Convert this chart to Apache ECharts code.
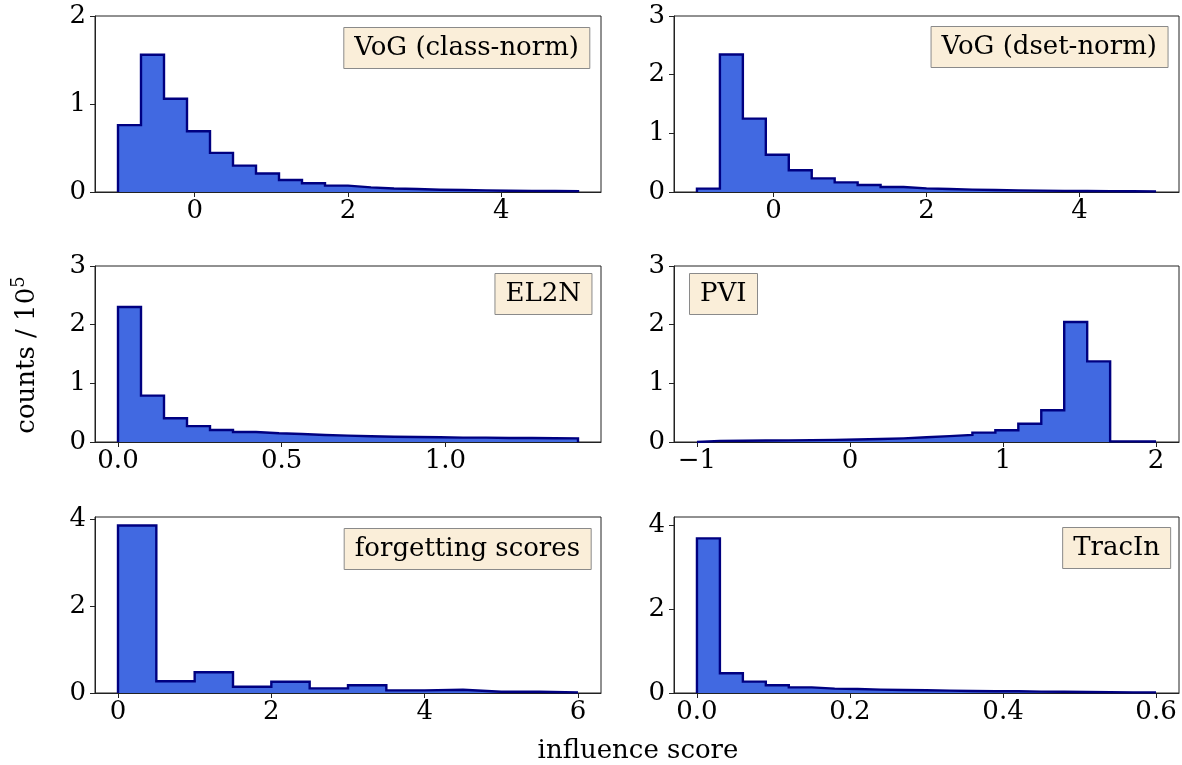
<!DOCTYPE html>
<html lang="en">
<head>
    <meta charset="UTF-8">
    <title>influence score histograms</title>
    <script src="https://cdn.jsdelivr.net/npm/echarts@6/dist/echarts.min.js"></script>
    <style>
        html, body { margin: 0; padding: 0; background: #fff; }
        #chart { width: 1182px; height: 765px; }
    </style>
</head>
<body>
<div id="chart"></div>
<script type="text/javascript">
    // bin heights, counts / 10^5
    var vogClassHeights = [0.76, 1.56, 1.06, 0.69, 0.445, 0.30, 0.21, 0.136, 0.10, 0.072,
                           0.053, 0.04, 0.034, 0.026, 0.022, 0.018, 0.015, 0.013, 0.011, 0.01];
    var vogDsetHeights  = [0.057, 2.345, 1.25, 0.635, 0.37, 0.232, 0.164, 0.12, 0.085, 0.062,
                           0.05, 0.04, 0.034, 0.028, 0.023, 0.02, 0.017, 0.015, 0.012, 0.01];
    var el2nHeights     = [2.30, 0.79, 0.405, 0.27, 0.205, 0.17, 0.148, 0.137, 0.12, 0.108,
                           0.097, 0.09, 0.085, 0.08, 0.074, 0.074, 0.068, 0.068, 0.065, 0.062];
    var pviHeights      = [0.02, 0.022, 0.025, 0.028, 0.032, 0.036, 0.042, 0.05, 0.062, 0.08,
                           0.10, 0.12, 0.16, 0.20, 0.31, 0.54, 2.045, 1.375, 0.01, 0.008];
    var forgetHeights   = [3.856, 0.27, 0.477, 0.144, 0.258, 0.106, 0.18, 0.06, 0.076, 0.03, 0.03, 0.015];
    var tracinHeights   = [3.68, 0.47, 0.27, 0.183, 0.135, 0.104, 0.096, 0.08, 0.072, 0.064,
                           0.056, 0.048, 0.04, 0.04, 0.032, 0.03, 0.024, 0.022, 0.016, 0.015];

    // histogram ranges [lo, hi] (equal-width bins)
    var binRanges = [[-1, 5], [-1, 5], [0, 1.405], [-1, 2], [0, 6], [0, 0.6]];

    // tick values and labels
    var xTickValues = [[0, 2, 4], [0, 2, 4], [0, 0.5, 1.0], [-1, 0, 1, 2], [0, 2, 4, 6], [0, 0.2, 0.4, 0.6]];
    var xTickLabels = [['0', '2', '4'], ['0', '2', '4'], ['0.0', '0.5', '1.0'], ['\u22121', '0', '1', '2'],
                       ['0', '2', '4', '6'], ['0.0', '0.2', '0.4', '0.6']];
    var yTickValues = [[0, 1, 2], [0, 1, 2, 3], [0, 1, 2, 3], [0, 1, 2, 3], [0, 2, 4], [0, 2, 4]];
    var yMaxes = [2, 3, 3, 3, 4.05, 4.19];

    var panelNames = ['VoG (class-norm)', 'VoG (dset-norm)', 'EL2N', 'PVI', 'forgetting scores', 'TracIn'];
    var allHeights = [vogClassHeights, vogDsetHeights, el2nHeights, pviHeights, forgetHeights, tracinHeights];

    // layout (px)
    var gridBoxes = [
        {left: 95,  top: 16,  width: 506, height: 176},
        {left: 674, top: 16,  width: 505, height: 176},
        {left: 95,  top: 266, width: 506, height: 176},
        {left: 674, top: 266, width: 505, height: 176},
        {left: 95,  top: 517, width: 506, height: 176},
        {left: 674, top: 517, width: 505, height: 176}
    ];
    var boxPos = [
        {right: 592, top: 27},
        {right: 14,  top: 26},
        {right: 590, top: 273},
        {left: 689,  top: 273},
        {right: 591, top: 528},
        {right: 11,  top: 527}
    ];

    var FONT = 'DejaVu Serif';
    var FS = 26;

    // outline of a step-filled histogram
    function stepPoints(heights, range) {
        var n = heights.length;
        var w = (range[1] - range[0]) / n;
        var pts = [[range[0], 0]];
        for (var i = 0; i < n; i++) {
            pts.push([range[0] + i * w, heights[i]]);
            pts.push([range[0] + (i + 1) * w, heights[i]]);
        }
        pts.push([range[1], 0]);
        return pts;
    }

    var grids = [], xAxes = [], yAxes = [], series = [], titles = [];
    for (var i = 0; i < 6; i++) {
        var r = binRanges[i];
        var pad = (r[1] - r[0]) * 0.05;
        grids.push({
            left: gridBoxes[i].left, top: gridBoxes[i].top,
            width: gridBoxes[i].width, height: gridBoxes[i].height,
            show: true, borderColor: '#222', borderWidth: 1, backgroundColor: 'transparent'
        });
        (function (labels, values) {
            xAxes.push({
                type: 'value', gridIndex: i,
                min: r[0] - pad, max: r[1] + pad,
                axisLine: {show: true, onZero: false, lineStyle: {color: '#222', width: 1}},
                splitLine: {show: false},
                axisTick: {show: true, inside: false, length: 5, customValues: values,
                           lineStyle: {color: '#222', width: 1}},
                axisLabel: {
                    customValues: values, margin: 6,
                    fontFamily: FONT, fontSize: FS, color: '#000',
                    formatter: function (v) {
                        for (var k = 0; k < values.length; k++) {
                            if (Math.abs(values[k] - v) < 1e-9) return labels[k];
                        }
                        return '';
                    }
                }
            });
        })(xTickLabels[i], xTickValues[i]);
        yAxes.push({
            type: 'value', gridIndex: i,
            min: 0, max: yMaxes[i],
            axisLine: {show: true, onZero: false, lineStyle: {color: '#222', width: 1}},
            splitLine: {show: false},
            axisTick: {show: true, inside: false, length: 5, customValues: yTickValues[i],
                       lineStyle: {color: '#222', width: 1}},
            axisLabel: {customValues: yTickValues[i], margin: 9,
                        fontFamily: FONT, fontSize: FS, color: '#000'}
        });
        series.push({
            type: 'line', xAxisIndex: i, yAxisIndex: i,
            data: stepPoints(allHeights[i], r),
            showSymbol: false, symbol: 'none',
            lineStyle: {color: '#000080', width: 2.4, join: 'miter'},
            areaStyle: {color: '#4169e1', opacity: 1},
            z: 1
        });
        var t = {
            text: panelNames[i], top: boxPos[i].top,
            padding: [7, 11, 7, 11],
            backgroundColor: 'rgba(245,222,179,0.5)',
            borderColor: '#8a8a8a', borderWidth: 1,
            textStyle: {fontFamily: FONT, fontSize: FS, fontWeight: 'normal', color: '#000', lineHeight: 28}
        };
        if (boxPos[i].right !== undefined) t.right = boxPos[i].right; else t.left = boxPos[i].left;
        titles.push(t);
    }

    var myChart = echarts.init(document.getElementById('chart'));
    var option = {
        animation: false,
        backgroundColor: '#fff',
        title: titles,
        grid: grids,
        xAxis: xAxes,
        yAxis: yAxes,
        series: series,
        graphic: [
            {
                type: 'text', x: 27, y: 355, rotation: Math.PI / 2,
                style: {
                    text: '{a|counts / 10}{b|5}',
                    align: 'center', verticalAlign: 'middle',
                    rich: {
                        a: {fontFamily: FONT, fontSize: FS, fill: '#000'},
                        b: {fontFamily: FONT, fontSize: 18, fill: '#000', padding: [0, 0, 16, 0]}
                    }
                }
            },
            {
                type: 'text', x: 638, y: 751,
                style: {
                    text: 'influence score', fontFamily: FONT, fontSize: FS, fill: '#000',
                    align: 'center', verticalAlign: 'middle'
                }
            }
        ]
    };
    myChart.setOption(option);
</script>
</body>
</html>
